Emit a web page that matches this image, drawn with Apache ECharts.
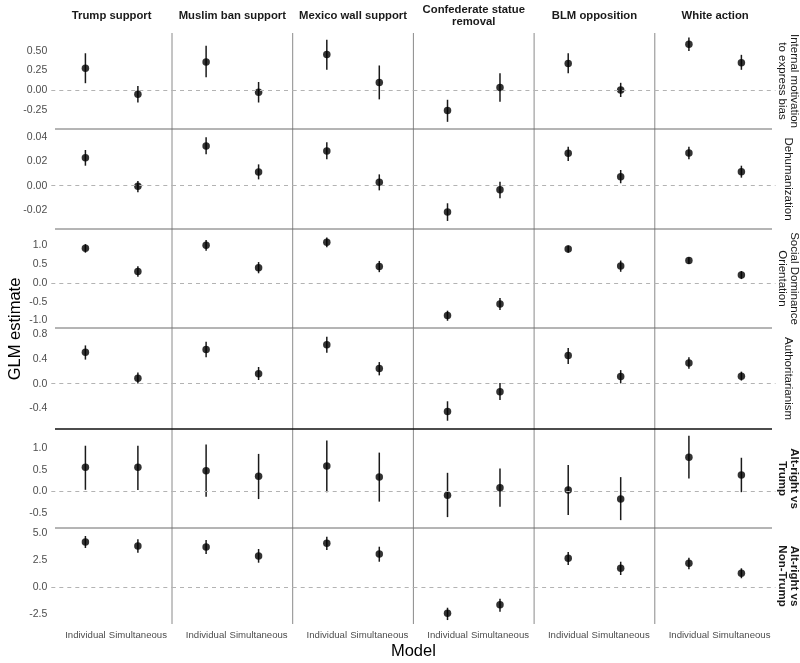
<!DOCTYPE html>
<html><head><meta charset="utf-8">
<script src="https://cdn.jsdelivr.net/npm/echarts@6/dist/echarts.min.js"></script>
<style>html,body{margin:0;padding:0;background:#fff}#chart{width:800px;height:663px}</style>
</head><body><div id="chart"></div>
<script>
// ---------- data ----------
const outcomes = ['Trump support','Muslim ban support','Mexico wall support','Confederate statue\nremoval','BLM opposition','White action'];
const predictors = ['Internal motivation\nto express bias','Dehumanization','Social Dominance\nOrientation','Authoritarianism','Alt-right vs\nTrump','Alt-right vs\nNon-Trump'];
const models = ['Individual','Simultaneous'];

// each array: [Trump Ind, Trump Sim, Muslim Ind, Muslim Sim, Mexico Ind, Mexico Sim, Confed Ind, Confed Sim, BLM Ind, BLM Sim, White Ind, White Sim]
const estInternal = [0.28,-0.05, 0.36,-0.025, 0.455,0.10, -0.255,0.035, 0.34,0.005, 0.585,0.35];
const lowInternal = [0.09,-0.155, 0.165,-0.155, 0.26,-0.115, -0.40,-0.145, 0.215,-0.085, 0.50,0.26];
const highInternal = [0.47,0.055, 0.565,0.105, 0.64,0.315, -0.12,0.215, 0.47,0.095, 0.67,0.45];

const estDehum = [0.023,-0.0005, 0.0325,0.0112, 0.0285,0.0028, -0.0216,-0.0033, 0.0266,0.0074, 0.0268,0.0115];
const lowDehum = [0.0164,-0.0054, 0.0257,0.0052, 0.0216,-0.0038, -0.0289,-0.0103, 0.0203,0.002, 0.0216,0.0066];
const highDehum = [0.0293,0.0039, 0.0397,0.0175, 0.0356,0.0093, -0.0144,0.0033, 0.032,0.0129, 0.032,0.0164];

const estSDO = [0.93,0.31, 1.01,0.41, 1.09,0.44, -0.87,-0.56, 0.91,0.455, 0.60,0.215];
const lowSDO = [0.81,0.17, 0.86,0.26, 0.955,0.29, -1.01,-0.72, 0.81,0.30, 0.51,0.105];
const highSDO = [1.04,0.45, 1.15,0.56, 1.22,0.59, -0.74,-0.40, 1.00,0.60, 0.69,0.32];

const estAuth = [0.51,0.09, 0.555,0.16, 0.63,0.245, -0.45,-0.13, 0.455,0.115, 0.335,0.12];
const lowAuth = [0.39,0.005, 0.43,0.06, 0.50,0.135, -0.60,-0.265, 0.32,0.005, 0.24,0.05];
const highAuth = [0.62,0.18, 0.68,0.27, 0.76,0.35, -0.285,0.01, 0.58,0.22, 0.43,0.195];

const estARTrump = [0.56,0.56, 0.48,0.35, 0.59,0.33, -0.09,0.085, 0.03,-0.18, 0.79,0.38];
const lowARTrump = [0.035,0.03, -0.125,-0.18, -0.02,-0.24, -0.60,-0.36, -0.55,-0.67, 0.30,-0.02];
const highARTrump = [1.06,1.06, 1.09,0.87, 1.18,0.90, 0.43,0.53, 0.61,0.33, 1.29,0.78];

const estARNon = [4.17,3.80, 3.70,2.87, 4.05,3.06, -2.44,-1.64, 2.66,1.73, 2.19,1.27];
const lowARNon = [3.61,3.18, 3.06,2.25, 3.43,2.34, -3.06,-2.29, 2.04,1.11, 1.64,0.81];
const highARNon = [4.72,4.41, 4.35,3.52, 4.66,3.73, -1.92,-1.08, 3.24,2.34, 2.71,1.73];

// tick labels per row
const ticksInternal = [-0.25, 0, 0.25, 0.5];
const ticksDehum = [-0.02, 0, 0.02, 0.04];
const ticksSDO = [-1, -0.5, 0, 0.5, 1];
const ticksAuth = [-0.4, 0, 0.4, 0.8];
const ticksARTrump = [-0.5, 0, 0.5, 1];
const ticksARNon = [-2.5, 0, 2.5, 5];
const tickDecimals = [2, 2, 1, 1, 1, 1];

// axis ranges per row
const yMinByRow = [-0.491, -0.0355, -1.203, -0.734, -0.853, -3.426];
const yMaxByRow = [0.727, 0.0465, 1.444, 0.902, 1.449, 5.463];

// ---------- layout ----------
const PANEL_LEFT = 51.3, PANEL_W = 120.7;
const ROW_TOPS = [33, 129, 229, 328, 429, 528];
const ROW_BOTTOMS = [129, 229, 328, 429, 528, 624];
const FONT = "'Liberation Sans', Arial, Helvetica, sans-serif";

const rows = [
  {est: estInternal, lo: lowInternal, hi: highInternal, ticks: ticksInternal},
  {est: estDehum, lo: lowDehum, hi: highDehum, ticks: ticksDehum},
  {est: estSDO, lo: lowSDO, hi: highSDO, ticks: ticksSDO},
  {est: estAuth, lo: lowAuth, hi: highAuth, ticks: ticksAuth},
  {est: estARTrump, lo: lowARTrump, hi: highARTrump, ticks: ticksARTrump},
  {est: estARNon, lo: lowARNon, hi: highARNon, ticks: ticksARNon}
];

const grid = [], xAxis = [], yAxis = [], series = [], graphic = [];

rows.forEach((row, r) => {
  outcomes.forEach((oc, c) => {
    const g = grid.length;
    grid.push({left: PANEL_LEFT + c * PANEL_W, top: ROW_TOPS[r], width: PANEL_W, height: ROW_BOTTOMS[r] - ROW_TOPS[r], containLabel: false});
    xAxis.push({
      gridIndex: g, type: 'value', min: 0.35, max: 2.65,
      axisLine: {show: false}, axisTick: {show: false}, splitLine: {show: false},
      axisLabel: r === rows.length - 1 ? {
        show: true, customValues: [1, 2], formatter: v => models[Math.round(v) - 1],
        color: '#4d4d4d', fontSize: 9.6, fontFamily: FONT, margin: 6
      } : {show: false}
    });
    const dec = tickDecimals[r];
    yAxis.push({
      gridIndex: g, type: 'value', min: yMinByRow[r], max: yMaxByRow[r],
      axisLine: {show: false}, axisTick: {show: false}, splitLine: {show: false},
      axisLabel: c === 0 ? {
        show: true, customValues: row.ticks, formatter: v => Number(v).toFixed(dec),
        color: '#4d4d4d', fontSize: 10.5, fontFamily: FONT, margin: 4
      } : {show: false}
    });
    const pts = models.map((m, k) => [k + 1, row.est[2 * c + k]]);
    const bars = models.map((m, k) => [k + 1, row.lo[2 * c + k], row.hi[2 * c + k]]);
    series.push({
      type: 'custom', xAxisIndex: g, yAxisIndex: g, data: bars, z: 2,
      encode: {x: 0, y: [1, 2]},
      renderItem: (params, api) => {
        const p1 = api.coord([api.value(0), api.value(1)]);
        const p2 = api.coord([api.value(0), api.value(2)]);
        return {type: 'line', shape: {x1: p1[0], y1: p1[1], x2: p2[0], y2: p2[1]}, style: {stroke: '#1a1a1a', lineWidth: 1.5}};
      }
    });
    series.push({
      type: 'scatter', xAxisIndex: g, yAxisIndex: g, data: pts, symbolSize: 7.5, z: 3,
      itemStyle: {color: '#000'},
      markLine: {
        silent: true, symbol: 'none', label: {show: false}, animation: false,
        lineStyle: {type: [4, 4], color: '#b3b3b3', width: 1},
        data: [{yAxis: 0}]
      }
    });
  });
});

// separators
for (let c = 1; c < outcomes.length; c++) {
  const x = PANEL_LEFT + c * PANEL_W;
  graphic.push({type: 'line', shape: {x1: x, y1: ROW_TOPS[0], x2: x, y2: ROW_BOTTOMS[5]}, style: {stroke: '#8a8a8a', lineWidth: 1}, z: 1});
}
for (let r = 1; r < predictors.length; r++) {
  const y = ROW_TOPS[r];
  graphic.push({type: 'line', shape: {x1: 55, y1: y, x2: 772, y2: y}, style: {stroke: r === 4 ? '#111' : '#6a6a6a', lineWidth: r === 4 ? 1.5 : 1}, z: 1});
}
// column titles
outcomes.forEach((oc, c) => {
  graphic.push({type: 'text', x: PANEL_LEFT + (c + 0.5) * PANEL_W, y: 16,
    style: {text: oc, textAlign: 'center', textVerticalAlign: 'middle', font: 'bold 11.3px ' + FONT, fill: '#1a1a1a', lineHeight: 12}});
});
// row strip labels
predictors.forEach((p, r) => {
  graphic.push({type: 'text', x: 788, y: (ROW_TOPS[r] + ROW_BOTTOMS[r]) / 2, rotation: -Math.PI / 2,
    style: {text: p, textAlign: 'center', textVerticalAlign: 'middle', font: (r >= 4 ? 'bold ' : '') + '11.5px ' + FONT, fill: '#1a1a1a', lineHeight: 12}});
});
// axis titles
graphic.push({type: 'text', x: 15, y: 329, rotation: Math.PI / 2,
  style: {text: 'GLM estimate', textAlign: 'center', textVerticalAlign: 'middle', font: '16.5px ' + FONT, fill: '#000'}});
graphic.push({type: 'text', x: PANEL_LEFT + 3 * PANEL_W, y: 651,
  style: {text: 'Model', textAlign: 'center', textVerticalAlign: 'middle', font: '16.5px ' + FONT, fill: '#000'}});

const chart = echarts.init(document.getElementById('chart'), null, {renderer: 'canvas'});
chart.setOption({animation: false, backgroundColor: '#fff', grid, xAxis, yAxis, series, graphic});
</script>
</body></html>
